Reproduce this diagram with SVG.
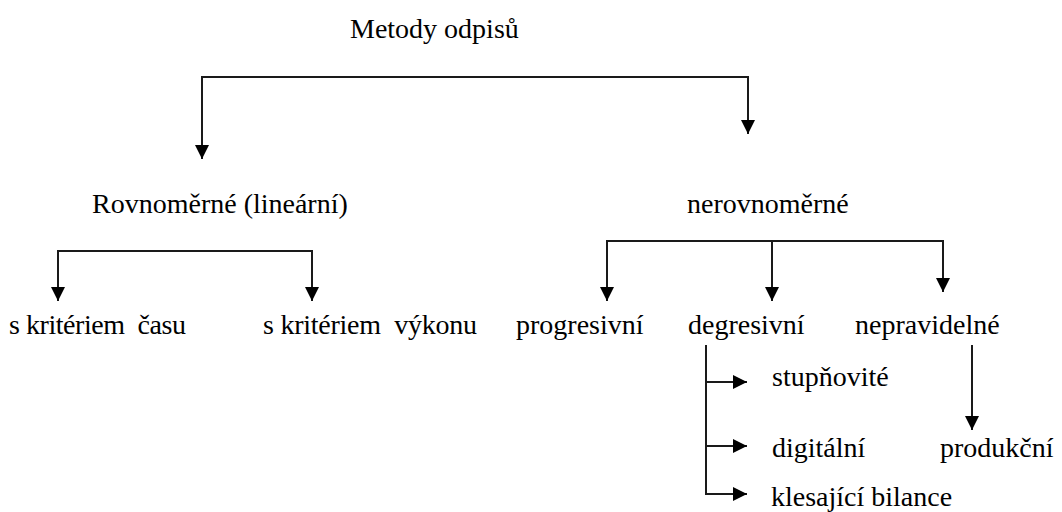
<svg xmlns="http://www.w3.org/2000/svg" width="1062" height="512" viewBox="0 0 1062 512">
<defs>
<marker id="ah" viewBox="0 0 14 14" refX="14" refY="7" markerWidth="14" markerHeight="14" markerUnits="userSpaceOnUse" orient="auto">
<path d="M0,0 L14,7 L0,14 z" fill="#000"/>
</marker>
<style>
.c{fill:none;stroke:#1a1a1a;stroke-width:2;marker-end:url(#ah)}
</style>
</defs>
<rect width="1062" height="512" fill="#fff"/>
<g id="connectors">
<path class="c" d="M475,77 H202 V159"/>
<path class="c" d="M475,77 H748 V134"/>
<path class="c" d="M185,251 H58 V301"/>
<path class="c" d="M185,251 H312 V301"/>
<path class="c" d="M772,241 H607 V301"/>
<path class="c" d="M772,241 V301"/>
<path class="c" d="M772,241 H943 V292"/>
<path class="c" d="M706,345 V494 H747"/>
<path class="c" d="M706,382 H747"/>
<path class="c" d="M706,446 H747"/>
<path class="c" d="M972,345 V430"/>
</g>
<g id="metody"><text x="350" y="38" font-family="Liberation Serif" font-size="28" fill="#000">Metody odpisů</text></g>
<g id="rovnomerne"><text x="92" y="213" font-family="Liberation Serif" font-size="28" fill="#000">Rovnoměrné (lineární)</text></g>
<g id="nerovnomerne"><text x="687" y="213" font-family="Liberation Serif" font-size="28" fill="#000">nerovnoměrné</text></g>
<g id="casu"><text x="9" y="334" font-family="Liberation Serif" font-size="28" fill="#000" xml:space="preserve" textLength="177">s kritériem  času</text></g>
<g id="vykonu"><text x="263" y="334" font-family="Liberation Serif" font-size="28" fill="#000" xml:space="preserve" textLength="214">s kritériem  výkonu</text></g>
<g id="progresivni"><text x="516" y="334" font-family="Liberation Serif" font-size="28" fill="#000">progresivní</text></g>
<g id="degresivni"><text x="688" y="334" font-family="Liberation Serif" font-size="28" fill="#000">degresivní</text></g>
<g id="nepravidelne"><text x="855" y="334" font-family="Liberation Serif" font-size="28" fill="#000">nepravidelné</text></g>
<g id="stupnovite"><text x="772" y="386" font-family="Liberation Serif" font-size="28" fill="#000">stupňovité</text></g>
<g id="digitalni"><text x="772" y="457" font-family="Liberation Serif" font-size="28" fill="#000">digitální</text></g>
<g id="produkcni"><text x="940" y="457" font-family="Liberation Serif" font-size="28" fill="#000">produkční</text></g>
<g id="klesajici"><text x="771" y="506" font-family="Liberation Serif" font-size="28" fill="#000">klesající bilance</text></g>
</svg>
